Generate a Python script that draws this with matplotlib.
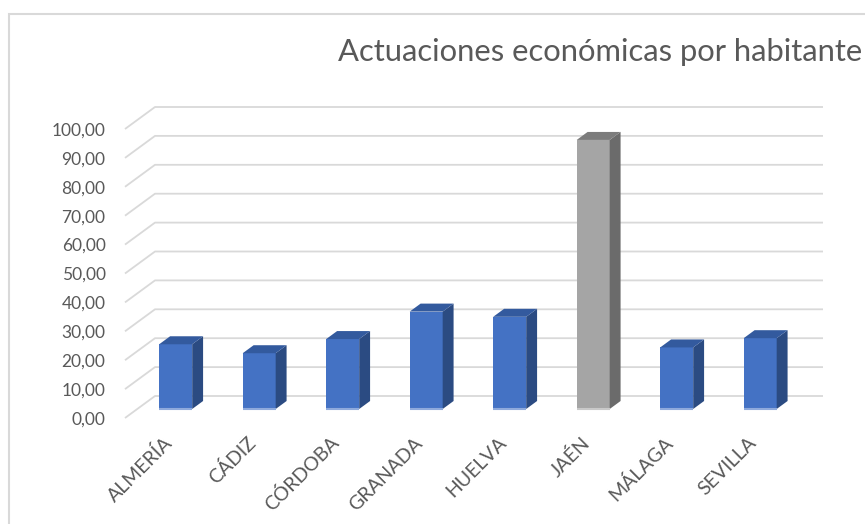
import matplotlib
matplotlib.use("Agg")
import matplotlib.pyplot as plt
from matplotlib.patches import Polygon, Rectangle
from matplotlib.transforms import offset_copy

provincias = ["ALMERÍA", "CÁDIZ", "CÓRDOBA", "GRANADA", "HUELVA", "JAÉN", "MÁLAGA", "SEVILLA"]
valores = [22.4, 19.3, 24.2, 33.7, 31.9, 93.1, 21.3, 24.5]
destacada = "JAÉN"
y_ticks = list(range(0, 101, 10))
titulo = "Actuaciones económicas por habitante"

# colores tipo Excel
azul = {"front": "#4472C4", "side": "#2B4B82", "top": "#335A9E", "base": "#8FAADC"}
gris = {"front": "#A5A5A5", "side": "#6B6B6B", "top": "#7C7C7C", "base": "#C9C9C9"}
gris_texto = "#595959"
gris_rejilla = "#D9D9D9"

W, H = 865, 524
fig = plt.figure(figsize=(W / 100, H / 100), dpi=100)

# plano frontal del grafico en pixeles
x0, y0, ancho, alto = 125, 418, 668, 289
ax = fig.add_axes([x0 / W, (H - y0) / H, ancho / W, alto / H])
xlim = (-0.46, 7.54)
ax.set_xlim(*xlim)
ax.set_ylim(0, 100)
xs = (xlim[1] - xlim[0]) / ancho   # datos por pixel
ys = 100 / alto

# profundidad (pixeles): fondo desplazado 30 a la derecha y 22 arriba
prof_x, prof_y = 30, 22
d_front, d_back = 9 / 22, 17 / 22


def desplaza(d):
    return prof_x * d * xs, prof_y * d * ys


# rejilla: diagonal en el lateral + linea en la pared del fondo
bx, by = desplaza(1)
for v in y_ticks:
    ax.plot([xlim[0], xlim[0] + bx, xlim[1] + bx], [v, v + by, v + by],
            color=gris_rejilla, lw=1.3, zorder=0, clip_on=False, solid_capstyle="butt")

# barras 3D
w = 0.395
fx, fy = desplaza(d_front)
dx = prof_x * (d_back - d_front) * xs
dy = prof_y * (d_back - d_front) * ys
xpos = [i + fx for i in range(len(provincias))]
colores = [gris if p == destacada else azul for p in provincias]

ax.bar(xpos, valores, width=w, bottom=fy, color=[c["front"] for c in colores],
       zorder=3, clip_on=False)
for x, v, c in zip(xpos, valores, colores):
    xr, xl = x + w / 2, x - w / 2
    top = fy + v
    ax.add_patch(Polygon([(xr, fy), (xr, top), (xr + dx, top + dy), (xr + dx, fy + dy)],
                         closed=True, fc=c["side"], ec="none", zorder=3, clip_on=False))
    ax.add_patch(Polygon([(xl, top), (xr, top), (xr + dx, top + dy), (xl + dx, top + dy)],
                         closed=True, fc=c["top"], ec="none", zorder=3, clip_on=False))
    ax.plot([xl, xr], [fy, fy], color=c["base"], lw=1.5, zorder=4, clip_on=False,
            solid_capstyle="butt")

# ejes
for s in ax.spines.values():
    s.set_visible(False)
ax.set_yticks(y_ticks)
ax.set_yticklabels([f"{v:.2f}".replace(".", ",") for v in y_ticks])
ax.tick_params(axis="y", length=0, pad=14, labelsize=12.5, labelcolor=gris_texto)
for t in ax.get_yticklabels():
    t.set_fontfamily("Lato")
ax.set_xticks([])

# etiquetas de categorias giradas
for i, p in enumerate(provincias):
    tr = offset_copy(ax.transData, fig=fig, x=6, y=-22, units="dots")
    ax.text(i, 0, p, transform=tr, rotation=45, ha="right", va="center",
            rotation_mode="anchor", fontsize=14, color=gris_texto, family="Lato",
            clip_on=False)

# titulo
fig.text(338 / W, 1 - 52 / H, titulo, ha="left", va="center", fontsize=22.3,
         color=gris_texto, family="Lato")

# borde del area del grafico
fig.patches.append(Rectangle((9 / W, -0.1), 1.2, 1 - 14 / H + 0.1, transform=fig.transFigure,
                             fill=False, ec=gris_rejilla, lw=1.5))

fig.savefig("out.png", dpi=100)
